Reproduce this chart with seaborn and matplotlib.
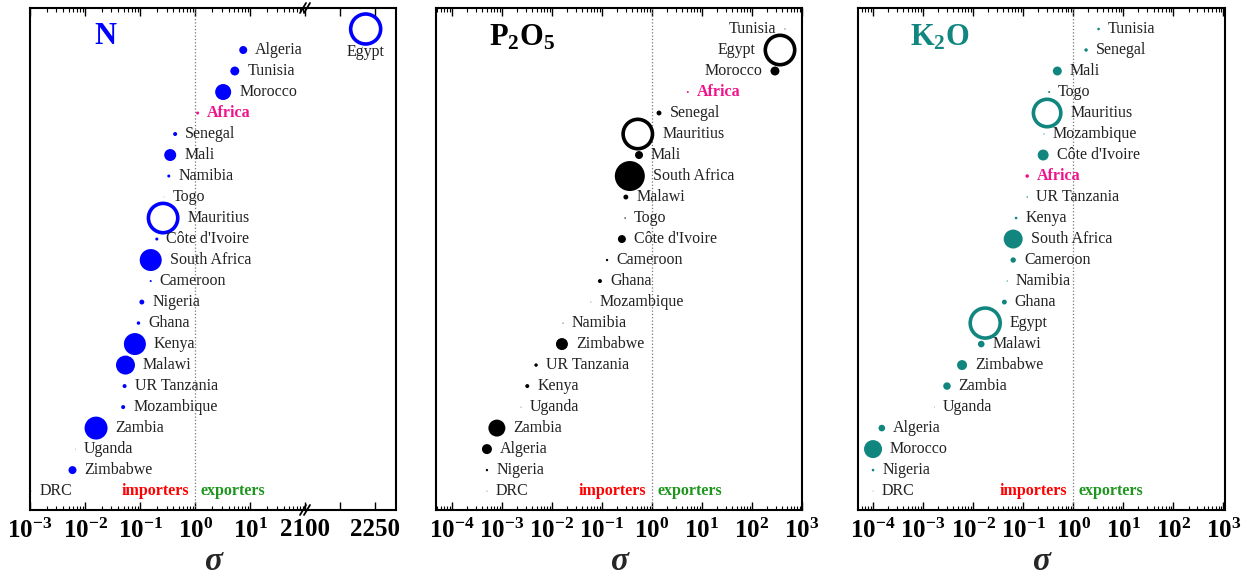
import numpy as np
import pandas as pd
import matplotlib
matplotlib.use("Agg")
import matplotlib.pyplot as plt
import matplotlib.ticker as mticker
from matplotlib.lines import Line2D
import seaborn as sns

# ---- data (rows listed top to bottom) ----
# bubble = relative bubble size (area units), sigma = export/import ratio
countries_n = ["Egypt", "Algeria", "Tunisia", "Morocco", "Africa", "Senegal", "Mali",
               "Namibia", "Togo", "Mauritius", "Côte d'Ivoire", "South Africa", "Cameroon",
               "Nigeria", "Ghana", "Kenya", "Malawi", "UR Tanzania", "Mozambique", "Zambia",
               "Uganda", "Zimbabwe", "DRC"]
sigma_n = [2230, 7.4, 5.2, 3.2, 1.1, 0.43, 0.35, 0.33, 0.27, 0.26, 0.2, 0.155, 0.155,
           0.107, 0.093, 0.08, 0.054, 0.052, 0.049, 0.0158, 0.0067, 0.0059, 0.00105]
bubble_n = [225, 16, 20, 64, 2.3, 4, 36, 2.3, 0.1, 215, 2.3, 121, 1, 6, 3, 121, 90,
            4, 4, 132, 0.1, 16, 0.1]
hollow_n = ["Egypt", "Mauritius"]

countries_p = ["Tunisia", "Egypt", "Morocco", "Africa", "Senegal", "Mauritius", "Mali",
               "South Africa", "Malawi", "Togo", "Côte d'Ivoire", "Cameroon", "Ghana",
               "Mozambique", "Namibia", "Zimbabwe", "UR Tanzania", "Kenya", "Uganda",
               "Zambia", "Algeria", "Nigeria", "DRC"]
sigma_p = [457, 363, 288, 5.2, 1.38, 0.52, 0.55, 0.36, 0.30, 0.29, 0.25, 0.126, 0.091,
           0.06, 0.0166, 0.0158, 0.0048, 0.0032, 0.0024, 0.00079, 0.0005, 0.0005, 0.0005]
bubble_p = [0.25, 216, 20, 1, 6, 216, 16, 225, 6, 0.5, 16, 1.4, 4, 0.16, 0.25, 36, 3,
            4, 0.16, 72, 25, 1.4, 0.16]
hollow_p = ["Egypt", "Mauritius"]

countries_k = ["Tunisia", "Senegal", "Mali", "Togo", "Mauritius", "Mozambique",
               "Côte d'Ivoire", "Africa", "UR Tanzania", "Kenya", "South Africa", "Cameroon",
               "Namibia", "Ghana", "Egypt", "Malawi", "Zimbabwe", "Zambia", "Uganda",
               "Algeria", "Morocco", "Nigeria", "DRC"]
sigma_k = [3.2, 1.8, 0.48, 0.33, 0.30, 0.26, 0.25, 0.12, 0.12, 0.072, 0.063, 0.063,
           0.048, 0.042, 0.0174, 0.0145, 0.006, 0.003, 0.0017, 0.00015, 0.0001, 0.0001,
           0.0001]
bubble_k = [1.7, 3, 20, 1, 188, 0.36, 30, 3.2, 0.5, 1.7, 90, 7.3, 0.36, 6, 225, 11, 25,
            14, 0.16, 11, 81, 1.7, 0.16]
hollow_k = ["Egypt", "Mauritius"]

BLUE = "#0000FF"
TEAL = "#11867F"
PINK = "#F0148C"
SERIF = ["Liberation Serif", "DejaVu Serif"]

sns.set_style("ticks")
plt.rcParams["font.family"] = SERIF
plt.rcParams["mathtext.fontset"] = "custom"
plt.rcParams["mathtext.rm"] = "Liberation Serif"
plt.rcParams["mathtext.it"] = "Liberation Serif:italic"
plt.rcParams["mathtext.bf"] = "Liberation Serif:bold"

NORM = (0, 250)
SIZES = (0, 2.0736 * 250)   # area in pt^2 for a bubble value

W, H = 1247, 577
fig = plt.figure(figsize=(W / 100, H / 100), dpi=100)


def px_axes(x0, x1, top=8, bottom=510):
    return fig.add_axes([x0 / W, (H - bottom) / H, (x1 - x0) / W, (bottom - top) / H])


def make_df(countries, sigma, bubble, hollow):
    df = pd.DataFrame({"country": countries, "sigma": sigma, "bubble": bubble})
    df["row"] = np.arange(len(df))
    df["group"] = np.where(df["country"] == "Africa", "Africa", "country")
    df["hollow"] = df["country"].isin(hollow)
    return df


def draw_points(ax, df, color):
    pal = {"country": color, "Africa": PINK}
    filled = df[~df["hollow"]]
    if len(filled):
        sns.scatterplot(data=filled, x="sigma", y="row", hue="group", palette=pal,
                        size="bubble", sizes=SIZES, size_norm=NORM, linewidth=0,
                        legend=False, ax=ax, zorder=3)
    hol = df[df["hollow"]]
    if len(hol):
        sns.scatterplot(data=hol, x="sigma", y="row", hue="group", palette=pal,
                        size="bubble", sizes=SIZES, size_norm=NORM, legend=False,
                        ax=ax, zorder=3)
        pts = ax.collections[-1]
        pts.set_facecolor("none")
        pts.set_edgecolor(color)
        pts.set_linewidth(2.6)


def draw_labels(ax, df, below=False):
    for _, r in df.iterrows():
        rad = np.sqrt(r["bubble"]) + (1.8 if r["hollow"] else 0)
        off = (rad + 8) * 0.72
        kw = dict(fontsize=11.5, va="center", textcoords="offset points", color="#222222")
        if r["country"] == "Africa":
            kw.update(color=PINK, fontweight="bold")
        if below:
            ax.annotate(r["country"], (r["sigma"], r["row"]), xytext=(0, -23 * 0.72),
                        ha="center", **kw)
        elif r["sigma"] > 50:
            ax.annotate(r["country"], (r["sigma"], r["row"]), xytext=(-off, 0),
                        ha="right", **kw)
        else:
            ax.annotate(r["country"], (r["sigma"], r["row"]), xytext=(off, 0),
                        ha="left", **kw)


def style_axis(ax, n_rows):
    ax.set_ylim(n_rows - 0.1, -1)
    ax.set_yticks([])
    ax.set(xlabel="", ylabel="")
    for s in ax.spines.values():
        s.set_linewidth(1.5)
        s.set_color("black")
    ax.tick_params(axis="x", which="both", direction="in", top=True, bottom=True,
                   colors="black", pad=6)
    ax.tick_params(axis="x", which="major", length=6, width=1, labelsize=18)
    ax.tick_params(axis="x", which="minor", length=3, width=0.8)


def log_axis(ax, lo, hi):
    ax.set_xscale("log")
    ax.set_xlim(lo, hi)
    ax.xaxis.set_major_locator(mticker.LogLocator(base=10, numticks=20))
    ax.xaxis.set_minor_locator(mticker.LogLocator(base=10, subs=np.arange(2, 10), numticks=20))
    ax.xaxis.set_major_formatter(mticker.FuncFormatter(
        lambda v, p: r"$\mathbf{10^{%d}}$" % round(np.log10(v))))
    ax.xaxis.set_minor_formatter(mticker.NullFormatter())


def trade_marks(ax, n_rows):
    ax.axvline(1, color="#777777", ls=":", lw=0.9, zorder=1)
    ax.annotate("importers", (1, n_rows - 1), xytext=(-4.5, 0), textcoords="offset points",
                ha="right", va="center", color="red", fontweight="bold", fontsize=11.5)
    ax.annotate("exporters", (1, n_rows - 1), xytext=(4, 0), textcoords="offset points",
                ha="left", va="center", color="#1E961E", fontweight="bold", fontsize=11.5)


# ---- panel N (broken x axis) ----
df_n = make_df(countries_n, sigma_n, bubble_n, hollow_n)
n_rows = len(df_n)
ax_a = px_axes(30, 305)
ax_b = px_axes(305, 396)
left_part = df_n[df_n["sigma"] < 100]
right_part = df_n[df_n["sigma"] >= 100]
draw_points(ax_a, left_part, BLUE)
draw_points(ax_b, right_part, BLUE)
log_axis(ax_a, 1e-3, 10 ** 1.99)
ax_b.set_xlim(2100, 2295)
style_axis(ax_a, n_rows)
style_axis(ax_b, n_rows)
ax_b.set_xticks([2100, 2175, 2250], labels=["2100", "", "2250"], fontsize=18,
                fontweight="bold")
ax_a.spines["right"].set_visible(False)
ax_b.spines["left"].set_visible(False)
draw_labels(ax_a, left_part)
draw_labels(ax_b, right_part, below=True)
trade_marks(ax_a, n_rows)
for yb in (510, 8):
    for dx in (0, 4):
        fig.add_artist(Line2D([(300 + dx) / W, (306 + dx) / W],
                              [(H - yb - 5) / H, (H - yb + 5) / H],
                              color="black", lw=1.3))

# ---- panel P2O5 ----
ax_p = px_axes(436, 802)
df_p = make_df(countries_p, sigma_p, bubble_p, hollow_p)
draw_points(ax_p, df_p, "black")
log_axis(ax_p, 10 ** -4.32, 1e3)
style_axis(ax_p, len(df_p))
draw_labels(ax_p, df_p)
trade_marks(ax_p, len(df_p))

# ---- panel K2O ----
ax_k = px_axes(858, 1225)
df_k = make_df(countries_k, sigma_k, bubble_k, hollow_k)
draw_points(ax_k, df_k, TEAL)
log_axis(ax_k, 10 ** -4.3, 10 ** 3.03)
style_axis(ax_k, len(df_k))
draw_labels(ax_k, df_k)
trade_marks(ax_k, len(df_k))

# ---- titles and sigma labels ----
fig.text(105 / W, 1 - 44 / H, "N", color=BLUE, fontsize=22, fontweight="bold",
         ha="center", va="baseline")
fig.text(522 / W, 1 - 45 / H, r"$\mathbf{P_2O_5}$", color="black", fontsize=22,
         ha="center", va="baseline")
fig.text(940 / W, 1 - 46 / H, r"$\mathbf{K_2O}$", color=TEAL, fontsize=22,
         ha="center", va="baseline")
for cx in (213, 619, 1041):
    fig.text(cx / W, 1 - 561 / H, "σ", fontsize=24, fontstyle="italic",
             fontweight="bold", ha="center", va="center")

fig.savefig("out.png", dpi=100)
